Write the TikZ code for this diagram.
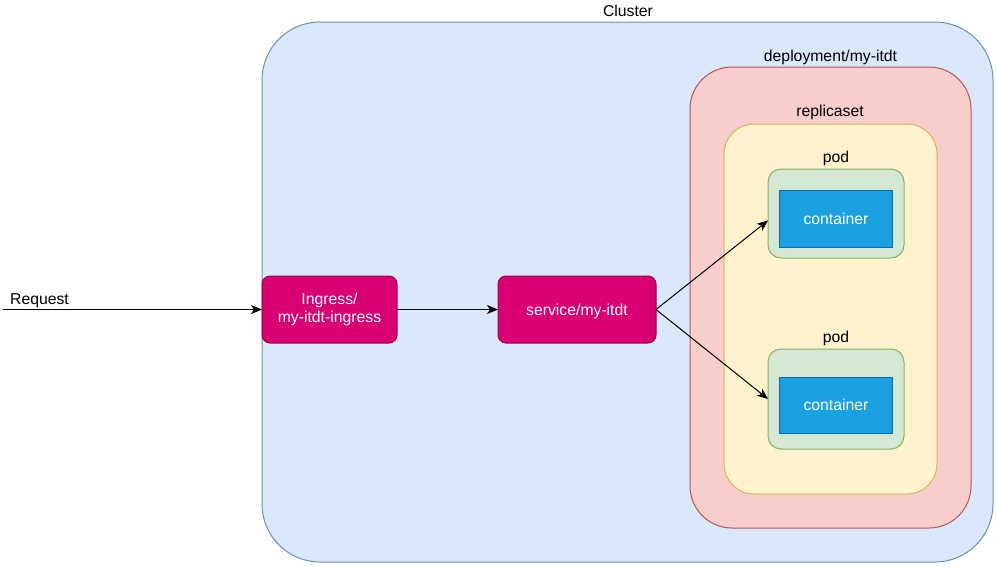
\documentclass[tikz,border=0pt]{standalone}
\usepackage{fontspec}
\setmainfont{Liberation Sans}
\usetikzlibrary{arrows.meta}
\definecolor{clfill}{HTML}{DAE8FC}\definecolor{cldraw}{HTML}{6C8EBF}
\definecolor{depfill}{HTML}{F8CECC}\definecolor{depdraw}{HTML}{B85450}
\definecolor{rsfill}{HTML}{FFF2CC}\definecolor{rsdraw}{HTML}{D6B656}
\definecolor{podfill}{HTML}{D5E8D4}\definecolor{poddraw}{HTML}{82B366}
\definecolor{ctfill}{HTML}{1BA1E2}\definecolor{ctdraw}{HTML}{006EAF}
\definecolor{mgfill}{HTML}{D80073}\definecolor{mgdraw}{HTML}{A50040}
\begin{document}
\begin{tikzpicture}[x=1pt,y=-1pt,
  font=\fontsize{15.75}{18}\selectfont,
  box/.style={draw, line width=1pt, inner sep=0pt, outer sep=0pt},
  cluster/.style={box, fill=clfill, draw=cldraw, rounded corners=58pt},
  dep/.style={box, fill=depfill, draw=depdraw, rounded corners=42pt},
  rs/.style={box, fill=rsfill, draw=rsdraw, rounded corners=30pt},
  podbox/.style={box, fill=podfill, draw=poddraw, rounded corners=13pt},
  ctbox/.style={box, fill=ctfill, draw=ctdraw, text=white, text height=11.5pt, text depth=0pt},
  mg/.style={box, fill=mgfill, draw=mgdraw, rounded corners=8pt, text=white, align=center},
  lbl/.style={inner sep=0pt, anchor=base},
  arr/.style={line width=1pt, -{Stealth[length=11pt,width=9pt,inset=3pt]}}
]
\useasboundingbox (0,0) rectangle (997,566);
\node[cluster, minimum width=731pt, minimum height=540pt] (cluster) at (627.5,292) {};
\node[lbl] (clusterlbl) at (628,16) {Cluster};
\node[dep, minimum width=281pt, minimum height=461pt] (dep) at (830.5,297.5) {};
\node[lbl] (deplbl) at (830.5,61) {deployment/my-itdt};
\node[rs, minimum width=213pt, minimum height=370pt] (rs) at (830.5,309) {};
\node[lbl] (rslbl) at (830,116) {replicaset};
\node[podbox, minimum width=136pt, minimum height=89pt] (pod1) at (836,213.5) {};
\node[lbl] (pod1lbl) at (836,162) {pod};
\node[ctbox, minimum width=113pt, minimum height=57pt] (ct1) at (836,219) {container};
\node[podbox, minimum width=136pt, minimum height=100pt] (pod2) at (836,399) {};
\node[lbl] (pod2lbl) at (836,342) {pod};
\node[ctbox, minimum width=113pt, minimum height=56pt] (ct2) at (836,405) {container};
\node[mg, minimum width=135pt, minimum height=67pt] (ing) at (329.5,309.5) {Ingress/\\my-itdt-ingress};
\node[mg, minimum width=158pt, minimum height=67pt, text height=11.5pt, text depth=0pt] (svc) at (577,309.5) {service/my-itdt};
\coordinate (req) at (3,309.5);
\node[lbl, anchor=base west] (reqlbl) at (10,304) {Request};
\draw[arr] (req) -- (ing.west);
\draw[arr] (ing.east) -- (svc.west);
\draw[arr] (svc.east) -- ([yshift=-7pt]pod1.west);
\draw[arr] (svc.east) -- (pod2.west);
\end{tikzpicture}
\end{document}
